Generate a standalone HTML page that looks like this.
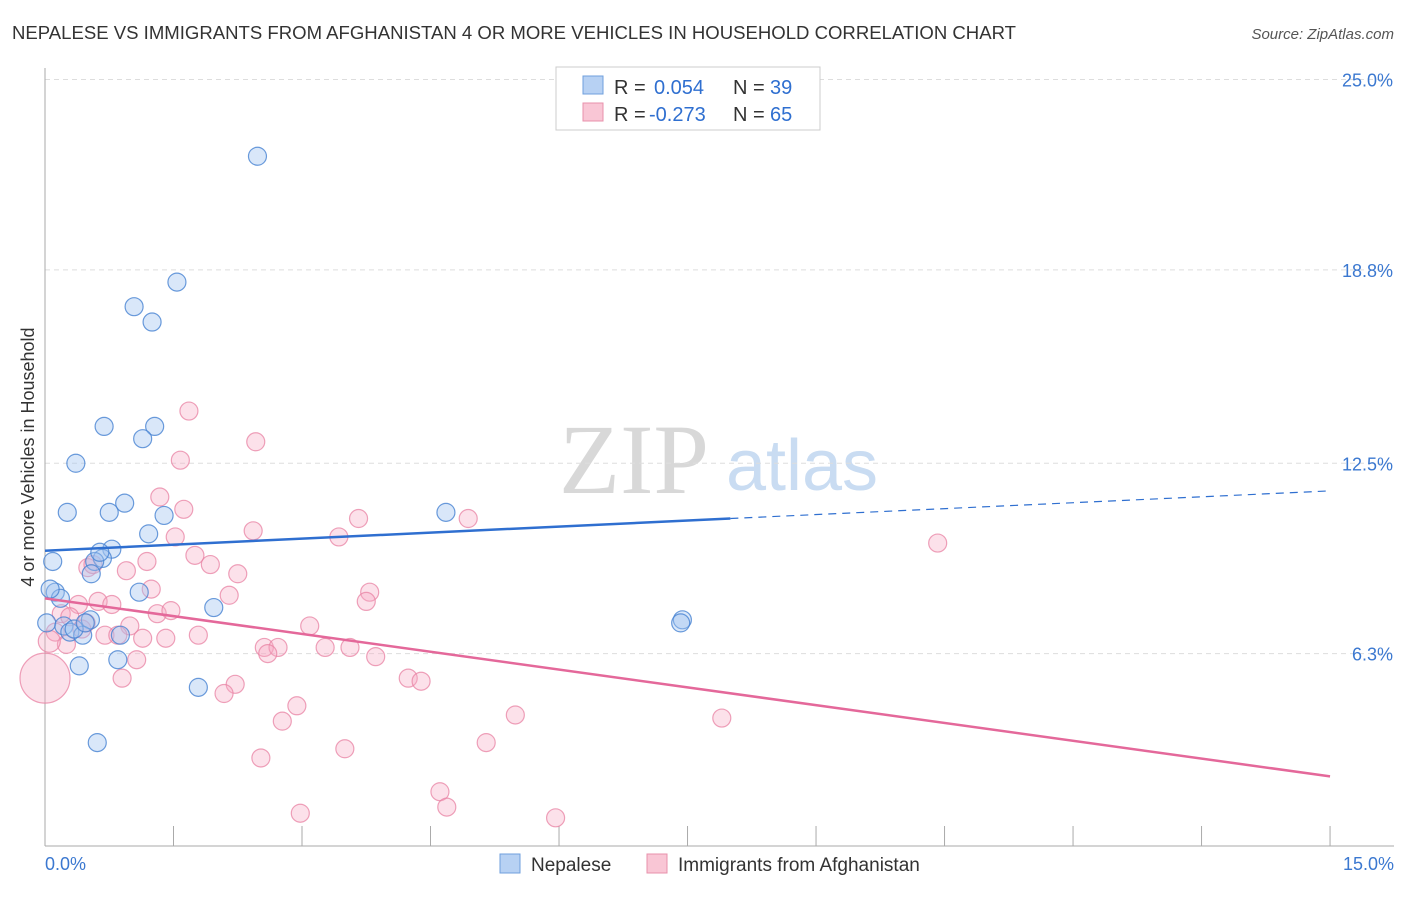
<!DOCTYPE html>
<html><head><meta charset="utf-8"><style>
body{margin:0;background:#fff;font-family:"Liberation Sans",sans-serif;}
</style></head><body>
<svg id="c" width="1406" height="892" xmlns="http://www.w3.org/2000/svg" font-family="Liberation Sans, sans-serif">
<text x="12" y="39" font-size="18.6" fill="#333" textLength="1004" lengthAdjust="spacingAndGlyphs">NEPALESE VS IMMIGRANTS FROM AFGHANISTAN 4 OR MORE VEHICLES IN HOUSEHOLD CORRELATION CHART</text>
<text x="1394" y="39" font-size="15" fill="#555" font-style="italic" text-anchor="end">Source: ZipAtlas.com</text>
<text x="0" y="0" transform="translate(34,457) rotate(-90)" font-size="18" fill="#333" text-anchor="middle">4 or more Vehicles in Household</text>
<text x="634" y="493" font-size="100" fill="#d8d8d8" style="font-family:'Liberation Serif',serif" text-anchor="middle">ZIP</text>
<text x="802" y="490" font-size="72" fill="#c9dcf2" text-anchor="middle">atlas</text>
<g id="grid"></g><g id="pts"></g><g id="lines"></g>
<rect x="556" y="67" width="264" height="63" fill="#fff" stroke="#ccc"/>
<rect x="583" y="76" width="20" height="18" fill="#b7d1f3" stroke="#6f9fdc"/>
<rect x="583" y="103" width="20" height="18" fill="#f9c6d5" stroke="#e890ab"/>
<text x="614" y="94" font-size="20" fill="#333">R = <tspan x="654" fill="#2f6fd0">0.054</tspan><tspan x="733">N = </tspan><tspan x="770" fill="#2f6fd0">39</tspan></text>
<text x="614" y="121" font-size="20" fill="#333">R = <tspan x="649" fill="#2f6fd0">-0.273</tspan><tspan x="733">N = </tspan><tspan x="770" fill="#2f6fd0">65</tspan></text>
<text x="45" y="870" font-size="18" fill="#3b78d0">0.0%</text>
<text x="1394" y="870" font-size="18" fill="#3b78d0" text-anchor="end">15.0%</text>
<rect x="500" y="854" width="20" height="19" fill="#b7d1f3" stroke="#6f9fdc"/>
<text x="531" y="871" font-size="19" fill="#333">Nepalese</text>
<rect x="647" y="854" width="20" height="19" fill="#f9c6d5" stroke="#e890ab"/>
<text x="678" y="871" font-size="19" fill="#333">Immigrants from Afghanistan</text>
</svg>
<script>
const yTicks=[25.0,18.8,12.5,6.3];
const yTickLabels=["25.0%","18.8%","12.5%","6.3%"];
const xTicks=[0,1.5,3,4.5,6,7.5,9,10.5,12,13.5,15];
const nepaleseX=[2.48,1.54,1.04,1.25,0.69,1.28,1.14,0.36,0.93,0.26,0.75,1.39,1.21,4.68,0.09,0.78,0.67,0.58,0.54,0.12,0.18,1.10,1.97,0.02,0.22,0.53,0.29,0.44,0.88,7.44,0.40,0.85,1.79,0.61,0.34,0.47,0.64,7.42,0.06];
const nepaleseY=[22.5,18.4,17.6,17.1,13.7,13.7,13.3,12.5,11.2,10.9,10.9,10.8,10.2,10.9,9.3,9.7,9.4,9.3,8.9,8.3,8.1,8.3,7.8,7.3,7.2,7.4,7.0,6.9,6.9,7.4,5.9,6.1,5.2,3.4,7.1,7.3,9.6,7.3,8.4];
const afgX=[1.68,2.46,1.58,1.34,1.62,2.43,3.66,4.94,10.42,3.43,1.52,1.75,1.19,1.93,0.95,2.25,0.50,0.56,1.24,2.15,3.79,3.75,0.62,0.78,0.39,1.31,1.47,0.19,0.29,0.48,3.09,0.99,0.70,1.14,1.41,1.79,0.12,0.25,2.56,2.72,3.27,3.56,2.60,1.07,3.86,4.24,4.39,0.90,2.22,2.09,2.94,2.77,5.49,7.90,3.50,5.15,2.52,4.61,4.69,2.98,5.96,0.05,0.0,0.85,0.43];
const afgY=[14.2,13.2,12.6,11.4,11.0,10.3,10.7,10.7,9.9,10.1,10.1,9.5,9.3,9.2,9.0,8.9,9.1,9.2,8.4,8.2,8.3,8.0,8.0,7.9,7.9,7.6,7.7,7.6,7.5,7.3,7.2,7.2,6.9,6.8,6.8,6.9,7.0,6.6,6.5,6.5,6.5,6.5,6.3,6.1,6.2,5.5,5.4,5.5,5.3,5.0,4.6,4.1,4.3,4.2,3.2,3.4,2.9,1.8,1.3,1.1,0.95,6.7,5.5,6.9,7.1];
const afgR=[9,9,9,9,9,9,9,9,9,9,9,9,9,9,9,9,9,9,9,9,9,9,9,9,9,9,9,9,9,9,9,9,9,9,9,9,9,9,9,9,9,9,9,9,9,9,9,9,9,9,9,9,9,9,9,9,9,9,9,9,9,11,25,9,9];
const nepLine=[[0,9.65],[8.0,10.7],[15,11.6]];
const afgLine=[[0,8.1],[15,2.3]];
const X=v=>45+v*85.67, Y=v=>847-v*30.7;
const NS="http://www.w3.org/2000/svg";
function mk(p,t,a){const e=document.createElementNS(NS,t);for(const k in a)e.setAttribute(k,a[k]);document.getElementById(p).appendChild(e);return e;}
yTicks.forEach((v,i)=>{
 let l=mk('grid','line',{x1:45,x2:1394,y1:Y(v),y2:Y(v),stroke:'#ddd','stroke-dasharray':'5,4'});
 
 
 let t=mk('grid','text',{x:1393,y:Y(v)+7,'font-size':18,fill:'#3b78d0','text-anchor':'end'});
 t.textContent=yTickLabels[i];
 
 
});
let ax=mk('grid','line',{x1:45,x2:45,y1:68,y2:846,stroke:'#aaa'});


let bx=mk('grid','line',{x1:45,x2:1394,y1:846,y2:846,stroke:'#aaa'});


xTicks.forEach(v=>{
 let l=mk('grid','line',{x1:X(v),x2:X(v),y1:826,y2:846,stroke:'#aaa'});
 
 
});
afgX.forEach((v,i)=>{
 let c=mk('pts','circle',{cx:X(v),cy:Y(afgY[i]),r:afgR[i],fill:'rgba(246,170,195,0.35)',stroke:'rgba(232,130,163,0.75)','stroke-width':1.2});
 
 
});
nepaleseX.forEach((v,i)=>{
 let c=mk('pts','circle',{cx:X(v),cy:Y(nepaleseY[i]),r:9,fill:'rgba(160,196,240,0.4)',stroke:'rgba(70,130,210,0.8)','stroke-width':1.2});
 
 
});
let a=mk('lines','line',{x1:X(nepLine[0][0]),y1:Y(nepLine[0][1]),x2:X(nepLine[1][0]),y2:Y(nepLine[1][1]),stroke:'#2f6fd0','stroke-width':2.5});


let b=mk('lines','line',{x1:X(nepLine[1][0]),y1:Y(nepLine[1][1]),x2:X(nepLine[2][0]),y2:Y(nepLine[2][1]),stroke:'#2f6fd0','stroke-width':1.2,'stroke-dasharray':'8,6'});


let c=mk('lines','line',{x1:X(afgLine[0][0]),y1:Y(afgLine[0][1]),x2:X(afgLine[1][0]),y2:Y(afgLine[1][1]),stroke:'#e4689a','stroke-width':2.5});


</script>
</body></html>
